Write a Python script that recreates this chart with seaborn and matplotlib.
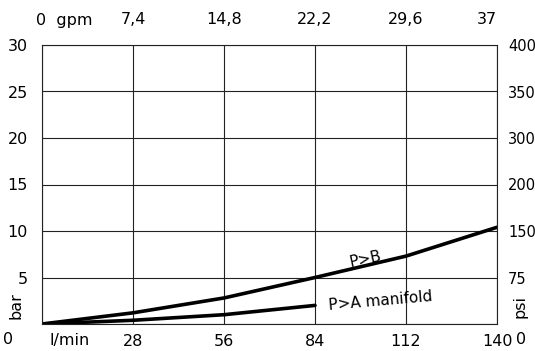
import matplotlib
matplotlib.use('Agg')
import matplotlib.pyplot as plt
import seaborn as sns
import pandas as pd

# ----------------------
# Data
flow_lpm = [0, 28, 56, 84, 112, 140]
pb_bar = [0, 1.2, 2.8, 5.0, 7.3, 10.4]
flow_pa = [0, 28, 56, 84]
pa_bar = [0, 0.4, 1.0, 2.0]

bar_ticks = [0, 5, 10, 15, 20, 25, 30]
bar_labels = ['', '5', '10', '15', '20', '25', '30']
psi_labels = ['', '75', '150', '200', '300', '350', '400']
lpm_labels = ['', '28', '56', '84', '112', '140']
gpm_labels = ['7,4', '14,8', '22,2', '29,6', '37']

sns.set_style('white')
plt.rcParams['font.family'] = ['DejaVu Sans']
plt.rcParams['text.color'] = 'black'
plt.rcParams['xtick.color'] = 'black'
plt.rcParams['ytick.color'] = 'black'

fig = plt.figure(figsize=(5.35, 3.51), dpi=100)
ax = fig.add_axes([42 / 535, 27 / 351, 455 / 535, 279 / 351])

df_pb = pd.DataFrame({'flow': flow_lpm, 'bar': pb_bar})
df_pa = pd.DataFrame({'flow': flow_pa, 'bar': pa_bar})
sns.lineplot(data=df_pb, x='flow', y='bar', ax=ax, color='black', lw=2.6)
sns.lineplot(data=df_pa, x='flow', y='bar', ax=ax, color='black', lw=2.6)

ax.set_xlim(0, 140)
ax.set_ylim(0, 30)
ax.set_xlabel('')
ax.set_ylabel('')

# grid
ax.set_xticks(flow_lpm)
ax.set_yticks(bar_ticks)
ax.grid(True, color='#222222', lw=0.8)
for s in ax.spines.values():
    s.set_color('#222222')
    s.set_linewidth(0.8)

fs = 11.5
ax.set_xticklabels(lpm_labels, fontsize=fs)
ax.set_yticklabels(bar_labels, fontsize=fs)
ax.tick_params(axis='x', length=0, pad=7)
ax.tick_params(axis='y', length=0, pad=10)

# right psi axis (slightly smaller so it fits the canvas)
ax2 = ax.twinx()
ax2.set_ylim(0, 30)
ax2.set_yticks(bar_ticks)
ax2.set_yticklabels(psi_labels, fontsize=10.5)
ax2.tick_params(axis='y', length=0, pad=8)
for s in ax2.spines.values():
    s.set_visible(False)

# top gpm axis
ax3 = ax.twiny()
ax3.set_xlim(0, 140)
ax3.set_xticks(flow_lpm[1:])
ax3.set_xticklabels(gpm_labels, fontsize=fs)
ax3.tick_params(axis='x', length=0, pad=13)
ax3.get_xticklabels()[-1].set_ha('right')
for s in ax3.spines.values():
    s.set_visible(False)

# extra axis texts
fig.text(8 / 535, 1 - 340 / 351, '0', fontsize=fs, ha='center', va='center')
fig.text(70 / 535, 1 - 340 / 351, 'l/min', fontsize=fs, ha='center', va='center')
fig.text(521 / 535, 1 - 340 / 351, '0', fontsize=fs, ha='center', va='center')
fig.text(64 / 535, 1 - 21 / 351, '0  gpm', fontsize=fs, ha='center', va='center')
fig.text(16 / 535, 1 - 306 / 351, 'bar', fontsize=fs, ha='center', va='center', rotation=90)
fig.text(520 / 535, 1 - 306 / 351, 'psi', fontsize=fs, ha='center', va='center', rotation=90)

# curve labels
ax.text(99.5, 7.0, 'P>B', fontsize=11, ha='center', va='center', rotation=12)
ax.text(104, 2.5, 'P>A manifold', fontsize=11, ha='center', va='center', rotation=5)

fig.savefig('out.png', dpi=100)
